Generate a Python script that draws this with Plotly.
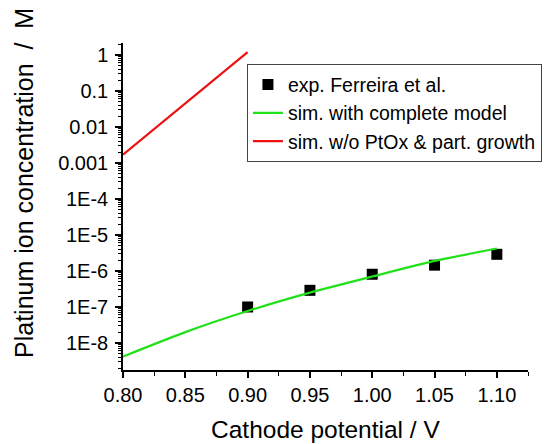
import plotly.graph_objects as go

# Data
exp_x = [0.90, 0.95, 1.00, 1.05, 1.10]
exp_y = [1.0e-7, 2.9e-7, 8.1e-7, 1.45e-6, 2.9e-6]

sim_x = [0.80, 0.85, 0.90, 0.95, 1.00, 1.05, 1.10]
sim_y = [4.2e-9, 2.0e-8, 7.7e-8, 2.5e-7, 7.0e-7, 1.9e-6, 4.2e-6]

wo_x = [0.80, 0.90]
wo_y = [0.0017, 1.2]

x_ticks = [0.80, 0.85, 0.90, 0.95, 1.00, 1.05, 1.10]
y_tickvals = [1, 0.1, 0.01, 0.001, 1e-4, 1e-5, 1e-6, 1e-7, 1e-8]
y_ticktext = ["1", "0.1", "0.01", "0.001", "1E-4", "1E-5", "1E-6", "1E-7", "1E-8"]

x_title = "Cathode potential / V"
y_title = "Platinum ion concentration  /  M"

font = "Liberation Sans, Arial, sans-serif"

fig = go.Figure()
fig.add_trace(go.Scatter(x=exp_x, y=exp_y, mode="markers", name="exp. Ferreira et al.",
                         marker=dict(symbol="square", size=11, color="black")))
fig.add_trace(go.Scatter(x=sim_x, y=sim_y, mode="lines", name="sim. with complete model",
                         line=dict(color="#22e01a", width=2.2, shape="spline", smoothing=0.6)))
fig.add_trace(go.Scatter(x=wo_x, y=wo_y, mode="lines", name="sim. w/o PtOx & part. growth",
                         line=dict(color="#ee1111", width=2.2)))

fig.update_layout(
    width=558, height=444,
    margin=dict(l=123, r=30, t=43, b=74),
    paper_bgcolor="white", plot_bgcolor="white",
    font=dict(family=font, size=20, color="black"),
    showlegend=True,
    legend=dict(x=0.306, y=0.935, xanchor="left", yanchor="top",
                bordercolor="#444", borderwidth=1, bgcolor="white",
                font=dict(size=19.5), tracegroupgap=0),
    xaxis=dict(range=[0.8, 1.125], tickvals=x_ticks, tickformat=".2f", automargin=False,
               showline=True, linecolor="black", linewidth=1.5,
               ticks="outside", ticklen=6, tickwidth=1.5, tickcolor="black",
               minor=dict(ticks="outside", ticklen=4, tickwidth=1.2, dtick=0.025, tickcolor="black"),
               showgrid=False, zeroline=False,
               tickfont=dict(size=20)),
    yaxis=dict(type="log", range=[-8.75, 0.33], tickvals=y_tickvals, ticktext=y_ticktext,
               automargin=False, ticklabelstandoff=3,
               showline=True, linecolor="black", linewidth=1.5,
               ticks="outside", ticklen=6, tickwidth=1.5, tickcolor="black",
               minor=dict(ticks="outside", ticklen=3, tickwidth=1, tickcolor="black",
                          dtick="D1", showgrid=False),
               showgrid=False, zeroline=False,
               tickfont=dict(size=20)),
    annotations=[
        dict(text=x_title, xref="paper", yref="paper", x=0.5, y=-0.227,
             xanchor="center", yanchor="bottom", showarrow=False, font=dict(size=24.5),
             borderpad=0),
        dict(text=y_title, xref="paper", yref="paper", x=-0.2444, y=0.572, textangle=-90,
             xanchor="center", yanchor="middle", showarrow=False, font=dict(size=25)),
    ],
)

fig.write_html("out.html")
